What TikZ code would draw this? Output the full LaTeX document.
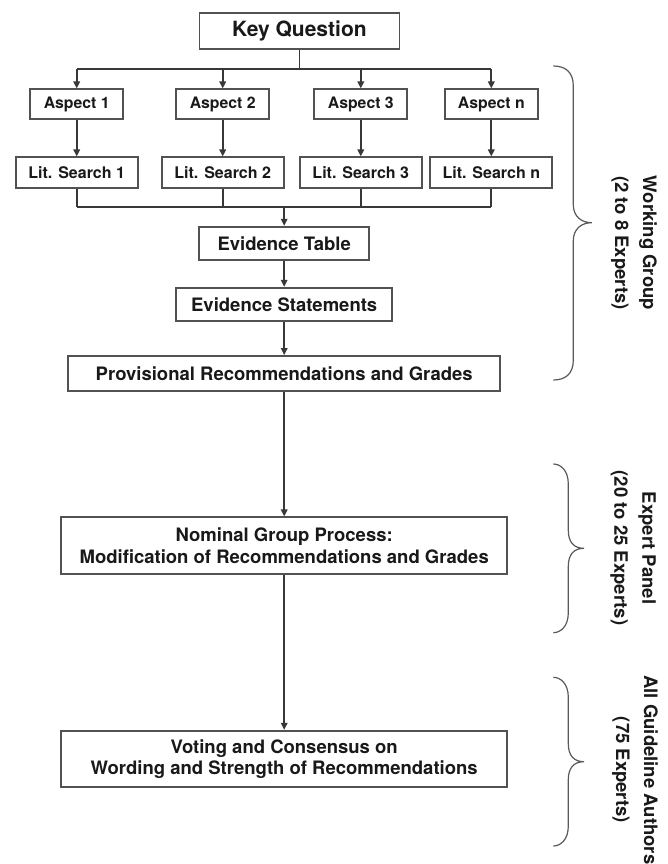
\documentclass[tikz,border=0pt]{standalone}
\usepackage{fontspec}
\setmainfont{TeX Gyre Heros}
\usetikzlibrary{arrows.meta}
\newcommand\gbrace[5]{% #1 top y, #2 tip y, #3 bottom y, #4 spine x, #5 tip x
  \draw[bracestyle] (553.3,#1) .. controls ({#4-8},#1) and (#4,{#1+6}) .. (#4,{#1+20})
    -- (#4,{#2-18}) .. controls (#4,{#2-6}) and ({#5-10},#2) .. (#5,#2)
    .. controls ({#5-10},#2) and (#4,{#2+6}) .. (#4,{#2+18})
    -- (#4,{#3-20}) .. controls (#4,{#3-6}) and ({#4-8},#3) .. (553.3,#3);}
\begin{document}
\begin{tikzpicture}[x=1pt,y=-1pt,
  box/.style={draw=black!68, line width=1.7pt, fill=white, inner sep=0pt,
    font=\bfseries\fontsize{18.5}{21.5}\selectfont, align=center, text=black!90},
  aspbox/.style={box, minimum width=93pt, minimum height=30pt, font=\bfseries\fontsize{15.8}{18}\selectfont},
  litbox/.style={box, minimum width=122pt, minimum height=31pt, font=\bfseries\fontsize{16}{18}\selectfont},
  conn/.style={draw=black!78, line width=1.7pt},
  arr/.style={conn, -{Triangle[length=7pt,width=6.5pt]}},
  bracestyle/.style={draw=black!65, line width=1.2pt},
  grplabel/.style={rotate=-90, align=center, text=black!90,
    font=\bfseries\fontsize{18.5}{28}\selectfont}]
\useasboundingbox (0,0) rectangle (668,864);

% boxes
\node[box, minimum width=200pt, minimum height=36.6pt, font=\bfseries\fontsize{21}{24}\selectfont] (kq) at (299.4,31) {Key Question};
\node[aspbox] (a1) at (76.7,104.3) {Aspect 1};
\node[aspbox] (a2) at (222.7,104.3) {Aspect 2};
\node[aspbox] (a3) at (360.8,104.3) {Aspect 3};
\node[aspbox] (an) at (491.3,104.3) {Aspect n};
\node[litbox] (l1) at (76.7,172.8) {Lit. Search 1};
\node[litbox] (l2) at (222.7,172.8) {Lit. Search 2};
\node[litbox] (l3) at (360.8,172.8) {Lit. Search 3};
\node[litbox] (ln) at (491.3,172.8) {Lit. Search n};
\node[box, minimum width=170pt, minimum height=33.3pt] (et) at (284.2,243.3) {Evidence Table};
\node[box, minimum width=216pt, minimum height=33.3pt] (es) at (284.2,304.3) {Evidence Statements};
\node[box, minimum width=432pt, minimum height=34.7pt] (pr) at (284.2,373.3) {Provisional Recommendations and Grades};
\node[box, minimum width=446pt, minimum height=56.4pt] (ng) at (284.2,545.5) {Nominal Group Process:\\Modification of Recommendations and Grades};
\node[box, minimum width=446pt, minimum height=56.6pt] (vc) at (284.2,759) {Voting and Consensus on\\Wording and Strength of Recommendations};

% bus coordinates
\coordinate (topbus) at (0,69.3);
\coordinate (botbus) at (0,206.7);

% top branching
\draw[conn] (kq.south) -- (kq.south |- topbus);
\draw[conn] (a1.north |- topbus) -- (an.north |- topbus);
\foreach \n in {a1,a2,a3,an}{\draw[arr] (\n.north |- topbus) -- (\n.north);}
% aspect -> lit search
\draw[arr] (a1) -- (l1);
\draw[arr] (a2) -- (l2);
\draw[arr] (a3) -- (l3);
\draw[arr] (an) -- (ln);
% merge
\foreach \n in {l1,l2,l3,ln}{\draw[conn] (\n.south) -- (\n.south |- botbus);}
\draw[conn] (l1.south |- botbus) -- (ln.south |- botbus);
\draw[arr] (et.north |- botbus) -- (et.north);
\draw[arr] (et) -- (es);
\draw[arr] (es) -- (pr);
\draw[arr] (pr) -- (ng);
\draw[arr] (ng) -- (vc);

% braces
\gbrace{66}{222.7}{380}{573.3}{591.7}
\gbrace{464}{548.3}{632.7}{568.3}{584}
\gbrace{677.3}{761.7}{846}{568.3}{584}

% labels
\node[grplabel] (wg) at (634,243) {Working Group\\(2 to 8 Experts)};
\node[grplabel] (ep) at (633,548) {Expert Panel\\(20 to 25 Experts)};
\node[grplabel] (ag) at (635,770) {All Guideline Authors\\(75 Experts)};
\end{tikzpicture}
\end{document}
